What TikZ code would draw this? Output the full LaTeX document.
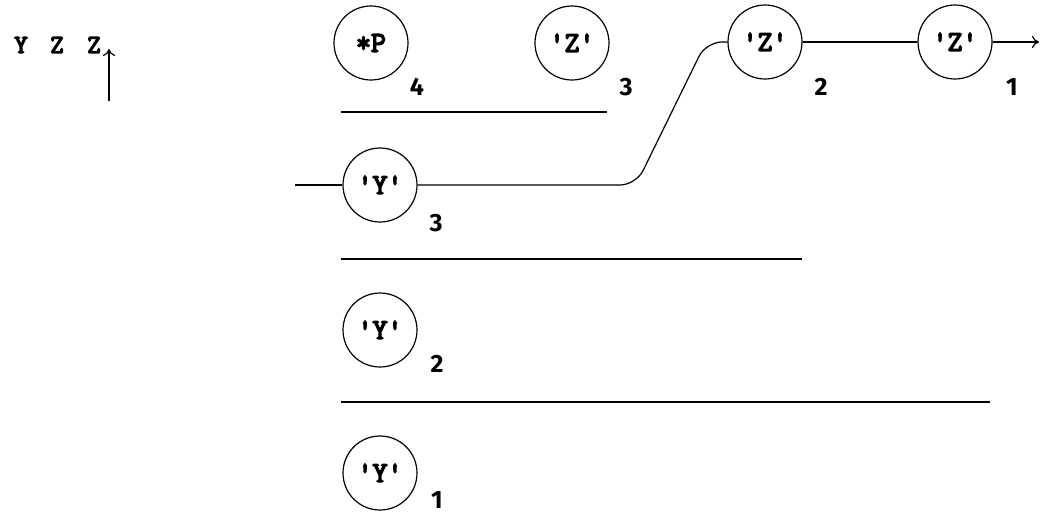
\documentclass[tikz,border=0pt]{standalone}
\usepackage{fontspec}
\newfontfamily\symfont{Latin Modern Mono}[FakeBold=5]
\newfontfamily\digitfont{Fira Sans}
\usetikzlibrary{arrows.meta}
\tikzset{
  sym/.style={draw, circle, line width=1.2pt, minimum size=74pt, inner sep=0pt,
    font=\symfont\fontsize{29}{29}\selectfont},
  idx/.style={inner sep=0pt, font=\digitfont\bfseries\fontsize{25}{25}\selectfont},
  topch/.style={inner sep=0pt, font=\symfont\fontsize{26}{26}\selectfont},
  wire/.style={line width=1.2pt},
  sep/.style={line width=1.2pt},
  arr/.style={line width=1.2pt, -{To[length=7pt,width=12pt]}}
}
\begin{document}
\begin{tikzpicture}[x=1pt,y=-1pt]
\useasboundingbox (0,0) rectangle (1040,520);
% top-left text
\node[topch] (ty) at (21,45) {Y};
\node[topch] (tz1) at (57,45) {Z};
\node[topch] (tz2) at (94,45) {Z};
\coordinate (upb) at (109,101);
\coordinate (upt) at (109,49);
\draw[arr] (upb) -- (upt);
% row 1
\node[sym] (p4) at (371,43) {*P};
\node[idx] (l4) at (417,87) {4};
\node[sym] (z3) at (572,43) {'Z'};
\node[idx] (l3a) at (626,87) {3};
\node[sym] (z2) at (765,42) {'Z'};
\node[idx] (l2a) at (821,87) {2};
\node[sym] (z1) at (955,42) {'Z'};
\node[idx] (l1a) at (1012,87) {1};
\coordinate (outr) at (1039,42);
% separators
\coordinate (s1a) at (341,112); \coordinate (s1b) at (607,112);
\coordinate (s2a) at (341,259); \coordinate (s2b) at (802,259);
\coordinate (s3a) at (341,402); \coordinate (s3b) at (990,402);
\draw[sep] (s1a) -- (s1b);
\draw[sep] (s2a) -- (s2b);
\draw[sep] (s3a) -- (s3b);
% row Y3
\node[sym] (y3) at (380,185) {'Y'};
\node[idx] (l3b) at (436,223) {3};
\coordinate (inl) at (295,185);
% row Y2, Y1
\node[sym] (y2) at (380,330) {'Y'};
\node[idx] (l2b) at (437,364) {2};
\node[sym] (y1) at (380,473) {'Y'};
\node[idx] (l1b) at (437,500) {1};
% connectors
\draw[wire] (inl) -- (y3);
\draw[wire, rounded corners=16pt] (y3.east) -- (636,185) -- (706,42) -- (z2.west);
\draw[wire] (z2) -- (z1);
\draw[arr] (z1) -- (outr);
\end{tikzpicture}
\end{document}
